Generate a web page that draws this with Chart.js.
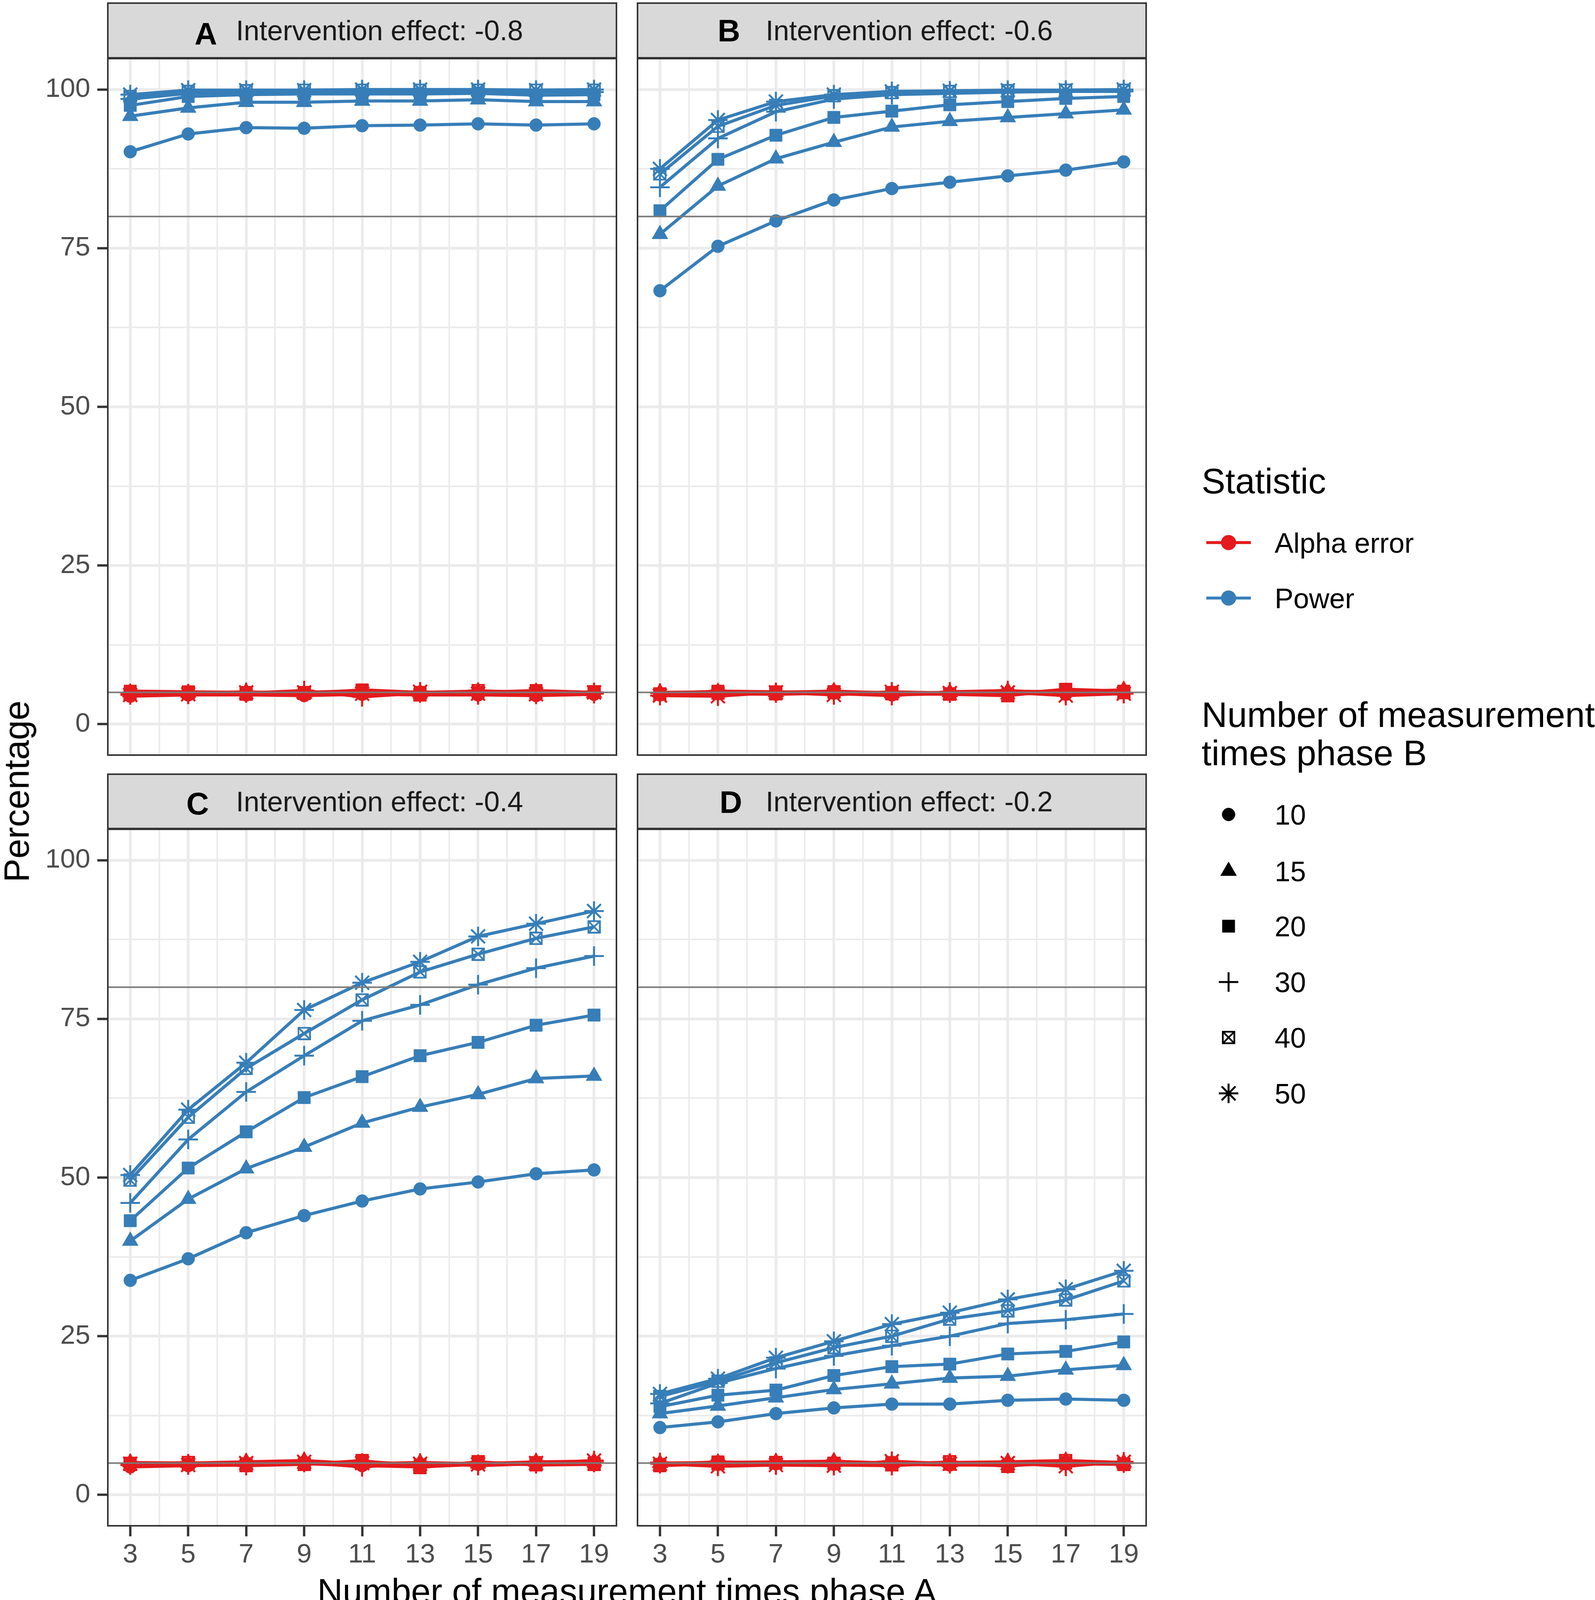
<!DOCTYPE html>
<html>
<head>
<meta charset="utf-8">
<title>Power and alpha error by number of measurement times</title>
<script src="https://cdn.jsdelivr.net/npm/chart.js@4.4.1/dist/chart.umd.min.js"></script>
<style>
  html, body { margin:0; padding:0; background:#ffffff; }
  body { position:relative; width:4083px; height:4129px; overflow:hidden; font-family:'Liberation Sans', Arial, Helvetica, sans-serif; }
  canvas { position:absolute; display:block; }
  .strip { position:absolute; background:#D9D9D9; border:4px solid #333333; box-sizing:border-box; }
  .txt { position:absolute; line-height:1; white-space:nowrap; }
</style>
</head>
<body>
<script>
// ---------------- DATA ----------------
const phaseA = [3, 5, 7, 9, 11, 13, 15, 17, 19];          // x categories (measurement times phase A)
const phaseB = [10, 15, 20, 30, 40, 50];                   // series (measurement times phase B)
const effects = ['-0.8', '-0.6', '-0.4', '-0.2'];
const panelLetters = ['A', 'B', 'C', 'D'];
const xTickLabels = [3, 5, 7, 9, 11, 13, 15, 17, 19];
const yTickLabels = [0, 25, 50, 75, 100];
const referenceLines = [80, 5];

// Power, rows = phase B 10,15,20,30,40,50
const powerA = [
  [90.2, 93.0, 94.0, 93.9, 94.3, 94.4, 94.6, 94.4, 94.6],
  [95.8, 97.1, 98.0, 98.0, 98.2, 98.2, 98.4, 98.1, 98.1],
  [97.5, 98.9, 99.2, 99.3, 99.3, 99.3, 99.4, 99.1, 99.2],
  [98.5, 99.4, 99.6, 99.7, 99.7, 99.7, 99.7, 99.6, 99.6],
  [98.9, 99.7, 99.8, 99.9, 99.9, 99.9, 99.9, 99.9, 99.9],
  [99.2, 99.9, 99.9, 99.9, 100.0, 100.0, 100.0, 99.9, 100.0]
];
const powerB = [
  [68.3, 75.3, 79.3, 82.6, 84.4, 85.4, 86.4, 87.3, 88.6],
  [77.2, 84.8, 89.1, 91.7, 94.1, 95.0, 95.6, 96.2, 96.8],
  [80.9, 89.0, 92.8, 95.6, 96.6, 97.6, 98.1, 98.6, 98.9],
  [84.6, 92.3, 96.5, 98.5, 99.2, 99.4, 99.6, 99.7, 99.7],
  [86.7, 94.2, 97.5, 99.0, 99.5, 99.7, 99.8, 99.9, 99.9],
  [87.5, 95.2, 98.1, 99.2, 99.7, 99.8, 99.9, 99.9, 100.0]
];
const powerC = [
  [33.8, 37.2, 41.3, 44.0, 46.3, 48.2, 49.3, 50.6, 51.2],
  [40.0, 46.6, 51.4, 54.8, 58.6, 61.1, 63.1, 65.6, 66.0],
  [43.2, 51.5, 57.2, 62.6, 65.9, 69.2, 71.3, 74.0, 75.6],
  [46.0, 56.0, 63.5, 69.2, 74.7, 77.2, 80.4, 83.0, 84.9],
  [49.6, 59.5, 67.2, 72.7, 78.0, 82.4, 85.2, 87.7, 89.5],
  [50.4, 60.7, 68.1, 76.4, 80.7, 84.0, 88.0, 90.0, 92.0]
];
const powerD = [
  [10.6, 11.5, 12.8, 13.7, 14.3, 14.3, 14.9, 15.1, 14.9],
  [12.8, 14.0, 15.3, 16.6, 17.5, 18.4, 18.7, 19.7, 20.4],
  [13.9, 15.7, 16.5, 18.8, 20.2, 20.6, 22.2, 22.6, 24.1],
  [14.4, 17.6, 19.9, 21.9, 23.5, 25.0, 27.0, 27.6, 28.5],
  [15.5, 17.9, 20.8, 23.2, 25.0, 27.7, 29.0, 30.7, 33.7],
  [15.9, 18.3, 21.6, 24.2, 26.9, 28.7, 30.8, 32.4, 35.3]
];

// Alpha error, rows = phase B 10,15,20,30,40,50
const alphaA = [
  [4.4, 4.6, 4.6, 4.5, 4.7, 4.6, 4.6, 4.5, 4.7],
  [5.0, 4.9, 5.1, 4.8, 4.9, 5.0, 5.2, 5.1, 4.9],
  [5.2, 5.1, 5.0, 4.8, 5.4, 5.0, 5.0, 5.3, 5.0],
  [4.8, 4.8, 4.9, 5.3, 4.3, 4.9, 4.6, 4.9, 4.8],
  [4.7, 5.0, 4.7, 5.0, 5.3, 4.6, 5.3, 4.8, 5.1],
  [4.6, 4.7, 5.0, 5.0, 4.8, 5.1, 4.8, 4.7, 5.0]
];
const alphaB = [
  [4.6, 4.8, 4.7, 4.9, 4.6, 4.8, 4.9, 4.7, 5.0],
  [5.0, 5.1, 5.0, 5.2, 4.9, 5.0, 5.2, 5.1, 5.4],
  [4.8, 5.2, 5.1, 5.0, 5.0, 4.8, 4.7, 5.5, 5.2],
  [4.9, 4.6, 4.9, 4.8, 4.5, 5.1, 5.3, 4.8, 4.9],
  [4.7, 4.9, 4.8, 5.1, 4.8, 4.7, 4.5, 5.4, 5.0],
  [4.5, 4.4, 5.0, 4.6, 5.1, 4.9, 5.0, 4.5, 4.8]
];
const alphaC = [
  [4.4, 4.6, 4.7, 4.9, 4.6, 4.4, 4.8, 4.8, 4.9],
  [5.1, 5.0, 5.2, 5.4, 4.9, 5.1, 4.9, 5.2, 5.3],
  [5.0, 4.8, 4.9, 4.9, 5.3, 4.7, 5.0, 5.1, 5.0],
  [4.7, 4.9, 4.6, 5.1, 4.4, 5.0, 4.6, 4.9, 5.1],
  [4.8, 5.1, 4.6, 4.8, 5.4, 4.3, 5.2, 4.7, 4.8],
  [4.9, 4.7, 5.0, 5.2, 5.0, 4.9, 4.8, 5.0, 5.4]
];
const alphaD = [
  [4.7, 4.8, 4.9, 4.8, 4.8, 4.7, 4.7, 4.9, 4.8],
  [5.0, 5.1, 5.2, 5.3, 5.0, 5.1, 5.2, 5.4, 5.1],
  [4.8, 5.2, 5.0, 4.9, 5.1, 4.8, 4.6, 5.0, 4.9],
  [5.1, 4.6, 4.8, 4.7, 4.6, 5.0, 4.9, 4.7, 5.0],
  [4.6, 4.9, 5.1, 5.0, 4.7, 5.2, 4.5, 5.4, 4.8],
  [4.9, 4.5, 4.7, 4.6, 5.3, 4.9, 5.0, 4.5, 5.2]
];

// ---------------- STYLE / LAYOUT ----------------
const FONT = "'Liberation Sans', Arial, Helvetica, sans-serif";
const BLUE = '#377EB8', RED = '#E41A1C';
const GRID = '#EBEBEB';
const PLOT_W = 1306, PLOT_H = 1787;
const X_MIN = 2.2, X_MAX = 19.8, Y_MIN = -5, Y_MAX = 105;

const shapeSpec = [
  { style: 'circle',   r: 16.5, bw: 1 },
  { style: 'triangle', r: 23.5, bw: 1 },
  { style: 'rect',     r: 22.5, bw: 1 },
  { style: 'cross',    r: 25,   bw: 5 },
  { style: 'xsquare',  r: 17,   bw: 0 },
  { style: 'star',     r: 25,   bw: 5 }
];

function xSquare(color) {
  const s = 34, lw = 4.5;
  const c = document.createElement('canvas');
  c.width = s; c.height = s;
  const g = c.getContext('2d');
  g.strokeStyle = color; g.lineWidth = lw;
  g.strokeRect(lw / 2, lw / 2, s - lw, s - lw);
  g.beginPath();
  g.moveTo(lw / 2, lw / 2); g.lineTo(s - lw / 2, s - lw / 2);
  g.moveTo(s - lw / 2, lw / 2); g.lineTo(lw / 2, s - lw / 2);
  g.stroke();
  return c;
}
const xsqCache = {};
function styleFor(k, color) {
  const st = shapeSpec[k].style;
  if (st !== 'xsquare') return st;
  if (!xsqCache[color]) xsqCache[color] = xSquare(color);
  return xsqCache[color];
}

function withMinor(labels) {
  const out = [];
  labels.forEach((v, i) => {
    out.push(v);
    if (i < labels.length - 1) out.push((v + labels[i + 1]) / 2);
  });
  return out;
}
const xGrid = withMinor(xTickLabels);
const yGrid = withMinor(yTickLabels);

function addText(str, left, capCenter, size, opts) {
  opts = opts || {};
  const d = document.createElement('div');
  d.className = 'txt';
  d.textContent = str;
  d.style.fontSize = size + 'px';
  d.style.color = opts.color || '#000000';
  if (opts.bold) d.style.fontWeight = 'bold';
  if (opts.rotate) {
    d.style.left = left + 'px';
    d.style.top = capCenter + 'px';
    d.style.transform = 'translate(-50%,-50%) rotate(-90deg)';
  } else {
    d.style.left = left + 'px';
    d.style.top = (capCenter - 0.4885 * size) + 'px';
    if (opts.center) d.style.transform = 'translateX(-50%)';
  }
  document.body.appendChild(d);
  return d;
}

const panelDecor = {
  id: 'panelDecor',
  afterDatasetsDraw(chart) {
    const { ctx, chartArea: a } = chart;
    const y = chart.scales.y;
    ctx.save();
    ctx.strokeStyle = '#7A7A7A';
    ctx.lineWidth = 4;
    referenceLines.forEach(v => {
      const py = y.getPixelForValue(v);
      ctx.beginPath(); ctx.moveTo(a.left, py); ctx.lineTo(a.right, py); ctx.stroke();
    });
    ctx.strokeStyle = '#333333';
    ctx.lineWidth = 4;
    ctx.strokeRect(a.left + 2, a.top + 2, a.right - a.left - 4, a.bottom - a.top - 4);
    ctx.restore();
  }
};

const panels = [
  { power: powerA, alpha: alphaA, left: 0,    top: 148,  width: 1580, yW: 274, xH: 0,   plotLeft: 274,  stripTop: 6,    textCap: 77,   letterCap: 86,   letterOff: 224 },
  { power: powerB, alpha: alphaB, left: 1630, top: 148,  width: 1306, yW: 0,   xH: 0,   plotLeft: 1630, stripTop: 6,    textCap: 77,   letterCap: 78,   letterOff: 207 },
  { power: powerC, alpha: alphaC, left: 0,    top: 2121, width: 1580, yW: 274, xH: 112, plotLeft: 274,  stripTop: 1980, textCap: 2051, letterCap: 2057, letterOff: 203 },
  { power: powerD, alpha: alphaD, left: 1630, top: 2121, width: 1306, yW: 0,   xH: 112, plotLeft: 1630, stripTop: 1980, textCap: 2051, letterCap: 2053, letterOff: 212 }
];

function seriesData(vals) { return phaseA.map((x, i) => ({ x: x, y: vals[i] })); }

function buildDatasets(p) {
  const ds = [];
  const groups = [[p.alpha, RED, 'Alpha error'], [p.power, BLUE, 'Power']];
  groups.forEach(([rows, color, stat]) => {
    phaseB.forEach((n, k) => {
      ds.push({
        label: stat + ' ' + n + ' (line)',
        data: seriesData(rows[k]),
        order: 2,
        borderColor: color, backgroundColor: color,
        borderWidth: 8, tension: 0, pointRadius: 0, pointHoverRadius: 0, fill: false
      });
      const sp = shapeSpec[k];
      ds.push({
        label: stat + ' ' + n,
        data: seriesData(rows[k]),
        order: 1,
        showLine: false,
        borderColor: color, backgroundColor: color,
        pointStyle: styleFor(k, color),
        pointRadius: sp.r, pointHoverRadius: sp.r,
        pointBorderWidth: sp.bw, pointHoverBorderWidth: sp.bw,
        pointBackgroundColor: color, pointBorderColor: color
      });
    });
  });
  return ds;
}

function zeroPad(s) { s.paddingLeft = 0; s.paddingRight = 0; s.paddingTop = 0; s.paddingBottom = 0; }

panels.forEach((p, idx) => {
  // strip
  const strip = document.createElement('div');
  strip.className = 'strip';
  strip.style.left = p.plotLeft + 'px';
  strip.style.top = p.stripTop + 'px';
  strip.style.width = PLOT_W + 'px';
  strip.style.height = (p.top + 2 - p.stripTop) + 'px';
  document.body.appendChild(strip);
  addText('Intervention effect: ' + effects[idx], p.plotLeft + 330, p.textCap, 72, { color: '#1A1A1A' });
  addText(panelLetters[idx], p.plotLeft + p.letterOff, p.letterCap, 80, { bold: true, color: '#000000' });

  // chart
  const cv = document.createElement('canvas');
  const h = PLOT_H + p.xH;
  cv.width = p.width; cv.height = h;
  cv.style.left = p.left + 'px'; cv.style.top = p.top + 'px';
  cv.style.width = p.width + 'px'; cv.style.height = h + 'px';
  document.body.appendChild(cv);

  new Chart(cv.getContext('2d'), {
    type: 'line',
    data: { datasets: buildDatasets(p) },
    plugins: [panelDecor],
    options: {
      responsive: false, maintainAspectRatio: false, animation: false, devicePixelRatio: 1,
      events: [],
      layout: { padding: 0, autoPadding: false },
      plugins: { legend: { display: false }, tooltip: { enabled: false } },
      scales: {
        x: {
          type: 'linear', position: 'bottom', min: X_MIN, max: X_MAX,
          afterBuildTicks: s => { s.ticks = xGrid.map(v => ({ value: v })); },
          afterFit: s => { s.height = p.xH; zeroPad(s); },
          border: { display: false },
          grid: {
            color: GRID,
            lineWidth: c => (c.tick && xTickLabels.includes(c.tick.value)) ? 7 : 4,
            drawTicks: p.xH > 0, tickLength: 25, tickWidth: 6,
            tickColor: c => (c.tick && xTickLabels.includes(c.tick.value)) ? '#333333' : 'rgba(0,0,0,0)'
          },
          ticks: {
            display: p.xH > 0, autoSkip: false, maxRotation: 0, minRotation: 0, padding: 7,
            color: '#4D4D4D', font: { family: FONT, size: 69 },
            callback: v => xTickLabels.includes(v) ? String(v) : ''
          }
        },
        y: {
          type: 'linear', position: 'left', min: Y_MIN, max: Y_MAX,
          afterBuildTicks: s => { s.ticks = yGrid.map(v => ({ value: v })); },
          afterFit: s => { s.width = p.yW; zeroPad(s); },
          border: { display: false },
          grid: {
            color: GRID,
            lineWidth: c => (c.tick && yTickLabels.includes(c.tick.value)) ? 7 : 4,
            drawTicks: p.yW > 0, tickLength: 25, tickWidth: 6,
            tickColor: c => (c.tick && yTickLabels.includes(c.tick.value)) ? '#333333' : 'rgba(0,0,0,0)'
          },
          ticks: {
            display: p.yW > 0, autoSkip: false, padding: 18,
            color: '#4D4D4D', font: { family: FONT, size: 69 },
            callback: v => yTickLabels.includes(v) ? String(v) : ''
          }
        }
      }
    }
  });
});

// axis titles
addText('Number of measurement times phase A', 1605, 4073, 90, { center: true });
addText('Percentage', 42, 2026, 91, { rotate: true });

// ---------------- LEGEND ----------------
function drawPt(ctx, style, r, bw, x, y) {
  if (Chart.helpers && Chart.helpers.drawPoint) {
    Chart.helpers.drawPoint(ctx, { pointStyle: style, radius: r, borderWidth: bw, rotation: 0 }, x, y);
  } else {
    ctx.beginPath(); ctx.arc(x, y, r, 0, Math.PI * 2); ctx.fill();
  }
}

const statLegend = [['Alpha error', RED, 1389], ['Power', BLUE, 1531]];
addText('Statistic', 3076, 1230, 91);
statLegend.forEach(([name, color, cy]) => {
  const c = document.createElement('canvas');
  c.width = 130; c.height = 50;
  c.style.left = '3082px'; c.style.top = (cy - 25) + 'px';
  document.body.appendChild(c);
  const g = c.getContext('2d');
  g.strokeStyle = color; g.fillStyle = color; g.lineWidth = 7.7;
  g.beginPath(); g.moveTo(6, 25); g.lineTo(120, 25); g.stroke();
  g.lineWidth = 1;
  drawPt(g, 'circle', 19, 1, 63, 25);
  addText(name, 3263, cy, 72);
});

addText('Number of measurement', 3076, 1828, 91);
addText('times phase B', 3076, 1926, 91);
const shapeLegendY = [2085, 2230, 2371, 2514, 2656, 2799];
phaseB.forEach((n, k) => {
  const cy = shapeLegendY[k];
  const c = document.createElement('canvas');
  c.width = 70; c.height = 70;
  c.style.left = (3145 - 35) + 'px'; c.style.top = (cy - 35) + 'px';
  document.body.appendChild(c);
  const g = c.getContext('2d');
  g.strokeStyle = '#000000'; g.fillStyle = '#000000';
  const sp = shapeSpec[k];
  g.lineWidth = sp.bw;
  drawPt(g, styleFor(k, '#000000'), sp.r, sp.bw, 35, 35);
  addText(String(n), 3263, cy, 72);
});
</script>
</body>
</html>
